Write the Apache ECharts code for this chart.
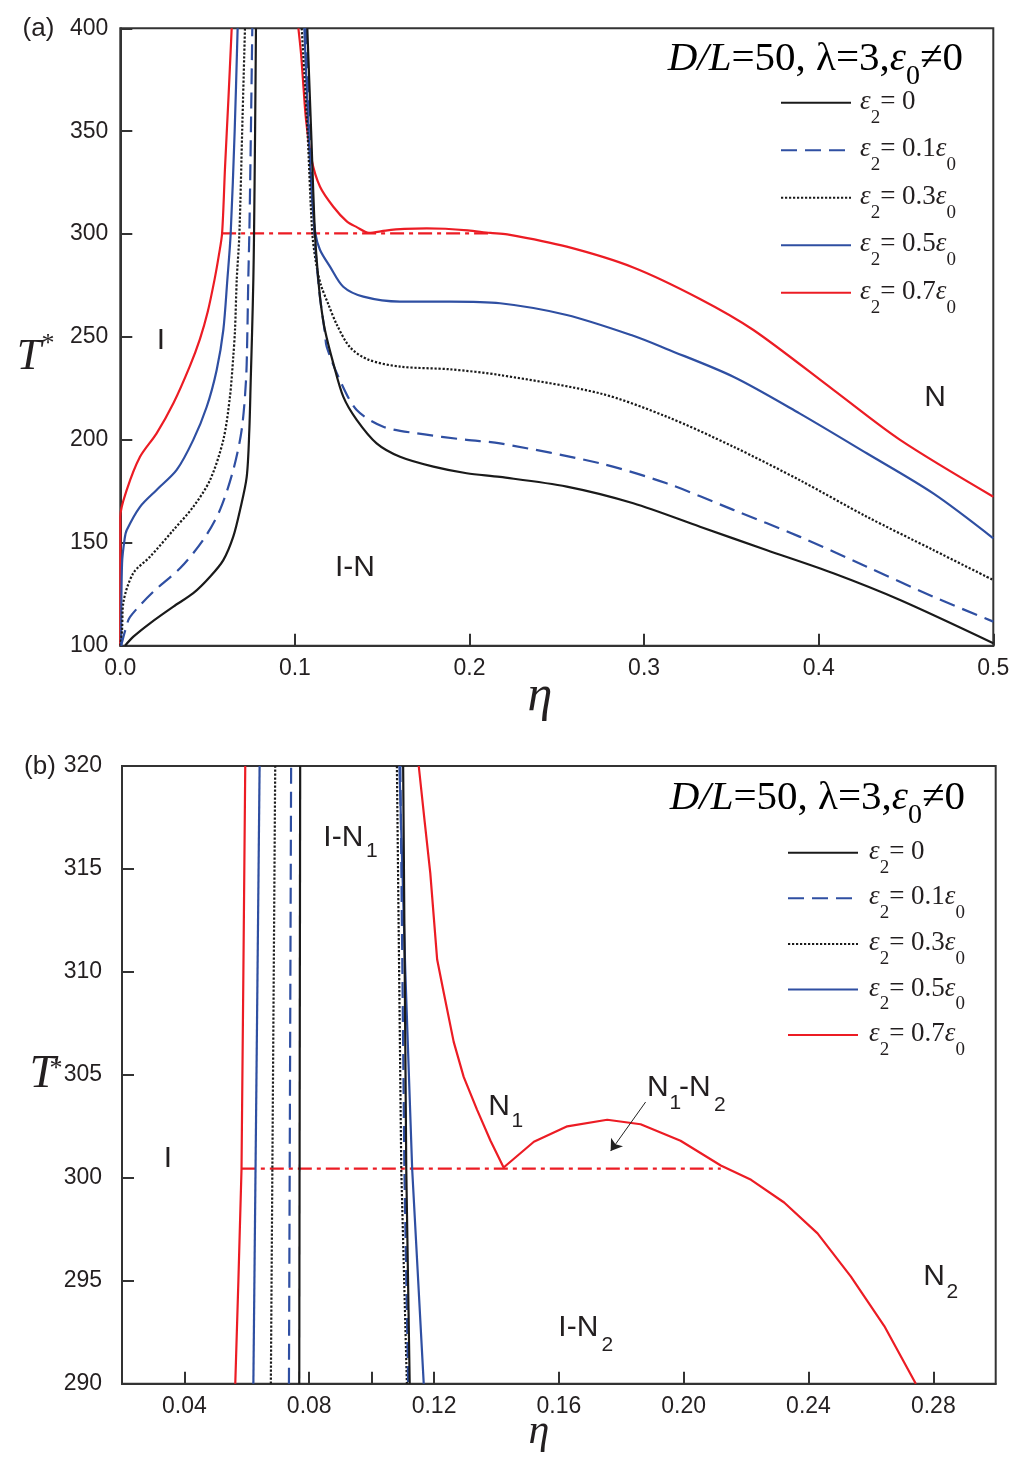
<!DOCTYPE html>
<html><head><meta charset="utf-8">
<script src="https://cdn.jsdelivr.net/npm/echarts@6/dist/echarts.min.js"></script>
<style>html,body{margin:0;padding:0;background:#fff}#c{width:1024px;height:1472px}</style>
</head><body><div id="c"></div>
<script>
// ---------- legend names ----------
const NAMES = ['ε2 = 0', 'ε2 = 0.1ε0', 'ε2 = 0.3ε0', 'ε2 = 0.5ε0', 'ε2 = 0.7ε0'];

// ---------- panel (a): ticks ----------
const aXRange = [0, 0.5], aXStep = 0.1;
const aYRange = [100, 400], aYStep = 50;

// ---------- panel (a): data [eta, T*] ----------
const a_e0_L = [[0.0027,100],[0.0075,104.4],[0.017,110.9],[0.0304,119],[0.0418,125.5],[0.0514,133.5],[0.059,141.6],[0.0647,153],[0.0686,166],[0.0724,182],[0.0739,204.8],[0.0747,229],[0.0755,253],[0.0762,278],[0.0766,300],[0.0772,350],[0.0777,400]];
const a_e0_R = [[0.1071,400],[0.1093,350],[0.1115,300],[0.1134,278],[0.115,265],[0.1172,253.4],[0.122,237.2],[0.1277,221],[0.1354,209.7],[0.1468,198.3],[0.1602,191.8],[0.1793,187],[0.1984,183.8],[0.2175,182],[0.2557,177.3],[0.2938,169.2],[0.332,157.8],[0.37,146.5],[0.4084,135.2],[0.4466,122.2],[0.5,101.2]];
const a_e1_L = [[0.0005,100],[0.003,108],[0.0056,114],[0.0189,126.2],[0.0342,137.6],[0.0475,151.4],[0.0571,166],[0.0647,185.4],[0.0695,204.8],[0.072,229],[0.0728,253.4],[0.0733,278],[0.0739,300],[0.0748,350],[0.0756,400]];
const a_e1_R = [[0.1062,400],[0.1088,350],[0.1112,300],[0.114,272],[0.1172,252],[0.1182,245.3],[0.1258,229],[0.1354,214.5],[0.1506,206.4],[0.1698,203.2],[0.1984,200],[0.2175,198.3],[0.2748,188.6],[0.3129,178.9],[0.3511,166],[0.389,153],[0.4275,138.4],[0.4656,123.8],[0.5,111.7]];
const a_e3_L = [[0,100],[0.001,107.6],[0.0017,120.7],[0.0074,135.2],[0.017,143.2],[0.0304,156.2],[0.0418,167.5],[0.0514,180.5],[0.059,200],[0.0628,221],[0.0647,240.4],[0.0657,253.4],[0.0667,278],[0.0682,300],[0.0698,350],[0.0714,400]];
const a_e3_R = [[0.1039,400],[0.1072,350],[0.11,300],[0.1125,284],[0.115,275],[0.1191,266],[0.124,256],[0.1316,245],[0.142,239],[0.1602,235.6],[0.1888,234.3],[0.2175,231.5],[0.2748,222.6],[0.3129,211.3],[0.3511,196.7],[0.389,180.5],[0.4275,162.7],[0.4656,146.5],[0.5,131.9]];
const a_e5_L = [[0.0005,100],[0.001,140],[0.0025,152],[0.0037,156.2],[0.0113,167.5],[0.0208,175.7],[0.0323,185.4],[0.0418,200],[0.0495,216.1],[0.0552,234],[0.059,253.4],[0.0613,277.7],[0.0632,300],[0.0655,350],[0.0672,400]];
const a_e5_R = [[0.1054,400],[0.1078,350],[0.11,315],[0.1118,300],[0.1144,292.3],[0.1201,284.2],[0.1277,274.4],[0.1392,269.6],[0.1602,267.2],[0.1888,267.2],[0.2175,266.4],[0.2557,260.7],[0.2938,250.6],[0.3129,244.2],[0.3511,230.7],[0.389,212.9],[0.4275,193.5],[0.4656,174],[0.5,152.2]];
const a_e7_L = [[0,100],[0,162.7],[0.0037,175.7],[0.0113,191.8],[0.0208,203.2],[0.0304,217.8],[0.0399,236],[0.0456,249],[0.05,262],[0.054,278],[0.0565,290],[0.0583,300.4],[0.06,332.8],[0.0619,365.2],[0.0638,400]];
const a_e7_R = [[0.102,400],[0.1035,387.8],[0.1049,371.6],[0.1064,355.4],[0.1096,336],[0.1144,323],[0.122,313.3],[0.1297,306.2],[0.1354,303.4],[0.1424,300.6],[0.152,301.7],[0.1627,302.5],[0.1755,302.8],[0.1862,302.6],[0.199,301.8],[0.2119,300.6],[0.2216,299.9],[0.2557,293.9],[0.2938,283.8],[0.332,268.5],[0.3626,253.4],[0.4084,224.3],[0.4466,200],[0.5,172.4]];
const a_tie = [[0.0583,300.4],[0.2119,300.4]];

// ---------- panel (b): ticks ----------
const bXRange = [0.02, 0.30];
const bXLabels = [0.04, 0.08, 0.12, 0.16, 0.20, 0.24, 0.28];
const bXTicks = [0.04, 0.08, 0.10, 0.12, 0.16, 0.20, 0.24, 0.28];
const bYRange = [290, 320], bYStep = 5;

// ---------- panel (b): data [eta, T*] ----------
const b_e0_L = [[0.0768,290],[0.0771,320]];
const b_e0_R = [[0.1101,320],[0.1111,300.4],[0.1122,290]];
const b_e1_L = [[0.0735,290],[0.0742,320]];
const b_e1_R = [[0.1092,320],[0.1105,300.4],[0.1117,290]];
const b_e3_L = [[0.0677,290],[0.0691,320]];
const b_e3_R = [[0.1081,320],[0.1095,300.4],[0.1113,290]];
const b_e5_L = [[0.0621,290],[0.0641,320]];
const b_e5_R = [[0.1089,320],[0.1108,310],[0.113,300.4],[0.1167,290]];
const b_e7_L = [[0.0563,290],[0.0573,295],[0.0583,300.4],[0.0589,310],[0.0595,320]];
const b_e7_R = [[0.1151,320],[0.117,317.3],[0.1188,314.8],[0.121,310.6],[0.1231,309],[0.1263,306.6],[0.1295,304.9],[0.1338,303.3],[0.1381,301.8],[0.1423,300.5],[0.152,301.75],[0.1627,302.5],[0.1755,302.82],[0.1862,302.6],[0.199,301.8],[0.2119,300.6],[0.2216,299.9],[0.2322,298.8],[0.2429,297.3],[0.2536,295.2],[0.2643,292.8],[0.2744,290]];
const b_tie = [[0.0584,300.45],[0.2119,300.45]];
const b_arrowFrom = [0.1878, 303.68];
const b_arrowTo = [0.1766, 301.3];

// ---------- styles ----------
const TXT = '#231f20';
const AX = '#333333';
const C_BLACK = '#1a1a1a', C_BLUE = '#2f4fa2', C_RED = '#ec1c24';
const SERIF = '"Liberation Serif", "Times New Roman", serif';
const SANS = '"Liberation Sans", Arial, Helvetica, sans-serif';
const DASH = [16, 8], DOT = [2.2, 1.8], DASHDOT = [14, 5, 4, 5];

const chart = echarts.init(document.getElementById('c'), null, {renderer: 'canvas'});

function mk(name, data, gi, color, dash, smooth, z) {
  return {
    name: name, type: 'line', xAxisIndex: gi, yAxisIndex: gi, data: data,
    symbol: 'none', showSymbol: false, smooth: smooth || false, clip: true,
    lineStyle: {color: color, width: 2.2, type: dash || 'solid'},
    itemStyle: {color: color}, emphasis: {disabled: true}, silent: true, z: z || 2
  };
}

const SM = 0.3;
const series = [
  mk(NAMES[4], a_e7_L, 0, C_RED, 'solid', SM, 2), mk(NAMES[4], a_e7_R, 0, C_RED, 'solid', SM, 2),
  mk('tie-a', a_tie, 0, C_RED, DASHDOT, false, 2),
  mk(NAMES[3], a_e5_L, 0, C_BLUE, 'solid', SM, 3), mk(NAMES[3], a_e5_R, 0, C_BLUE, 'solid', SM, 3),
  mk(NAMES[2], a_e3_L, 0, C_BLACK, DOT, SM, 4), mk(NAMES[2], a_e3_R, 0, C_BLACK, DOT, SM, 4),
  mk(NAMES[1], a_e1_L, 0, C_BLUE, DASH, SM, 5), mk(NAMES[1], a_e1_R, 0, C_BLUE, DASH, SM, 5),
  mk(NAMES[0], a_e0_L, 0, C_BLACK, 'solid', SM, 6), mk(NAMES[0], a_e0_R, 0, C_BLACK, 'solid', SM, 6),

  mk(NAMES[4], b_e7_L, 1, C_RED, 'solid', false, 2), mk(NAMES[4], b_e7_R, 1, C_RED, 'solid', false, 2),
  mk('tie-b', b_tie, 1, C_RED, DASHDOT, false, 2),
  mk(NAMES[3], b_e5_L, 1, C_BLUE, 'solid', false, 3), mk(NAMES[3], b_e5_R, 1, C_BLUE, 'solid', false, 3),
  mk(NAMES[2], b_e3_L, 1, C_BLACK, DOT, false, 4), mk(NAMES[2], b_e3_R, 1, C_BLACK, DOT, false, 4),
  mk(NAMES[1], b_e1_L, 1, C_BLUE, DASH, false, 5), mk(NAMES[1], b_e1_R, 1, C_BLUE, DASH, false, 5),
  mk(NAMES[0], b_e0_L, 1, C_BLACK, 'solid', false, 6), mk(NAMES[0], b_e0_R, 1, C_BLACK, 'solid', false, 6),
  {
    name: 'arrow', type: 'line', xAxisIndex: 1, yAxisIndex: 1, data: [b_arrowTo], symbol: 'none', silent: true,
    lineStyle: {width: 0},
    markLine: {
      silent: true, symbol: ['none', 'arrow'], symbolSize: 11, animation: false,
      label: {show: false}, emphasis: {disabled: true},
      lineStyle: {color: '#222', width: 1, type: 'solid'},
      data: [[{coord: b_arrowFrom}, {coord: b_arrowTo}]]
    }
  }
];

// legend rich text
const LEG_TEXT = {
  'ε2 = 0': '{e0|ε}{s|2}{t|= 0}',
  'ε2 = 0.1ε0': '{e0|ε}{s|2}{t|= 0.1}{e|ε}{s|0}',
  'ε2 = 0.3ε0': '{e0|ε}{s|2}{t|= 0.3}{e|ε}{s|0}',
  'ε2 = 0.5ε0': '{e0|ε}{s|2}{t|= 0.5}{e|ε}{s|0}',
  'ε2 = 0.7ε0': '{e0|ε}{s|2}{t|= 0.7}{e|ε}{s|0}'
};
function legRich(padL) {
  return {
    e0: {fontFamily: SERIF, fontStyle: 'italic', fontSize: 27, color: TXT, verticalAlign: 'top', padding: [10, 0, 0, padL]},
    e: {fontFamily: SERIF, fontStyle: 'italic', fontSize: 27, color: TXT, verticalAlign: 'top', padding: [10, 0, 0, 0]},
    s: {fontFamily: SERIF, fontSize: 19, color: TXT, verticalAlign: 'top', padding: [30, 0, 0, 0]},
    t: {fontFamily: SERIF, fontSize: 27, color: TXT, verticalAlign: 'top', padding: [10, 0, 0, 0]}
  };
}
function mkLegend(left, top, gap, padL) {
  return {
    orient: 'vertical', left: left, top: top, padding: 0, itemGap: gap,
    itemWidth: 70, itemHeight: 14, selectedMode: false,
    data: NAMES,
    itemStyle: {opacity: 0, color: 'rgba(0,0,0,0)', borderWidth: 0},
    formatter: function (n) { return LEG_TEXT[n]; },
    textStyle: {rich: legRich(padL)}
  };
}

// title rich text
const TITLE_TEXT = '{i|D/L}{r|=50, λ=3,}{i|ε}{s|0}{r|≠0}';
const TITLE_RICH = {
  i: {fontFamily: SERIF, fontStyle: 'italic', fontSize: 41, color: TXT, verticalAlign: 'top', padding: [0, 0, 0, 0]},
  r: {fontFamily: SERIF, fontSize: 41, color: TXT, verticalAlign: 'top', padding: [0, 0, 0, 0]},
  s: {fontFamily: SERIF, fontSize: 28, color: TXT, verticalAlign: 'top', padding: [24, 0, 0, 0]}
};

function T(x, y, text, size, extra) {
  const st = Object.assign({text: text, fontSize: size, fontFamily: SANS, fill: TXT, align: 'left', verticalAlign: 'middle'}, extra || {});
  return {type: 'text', x: x, y: y, silent: true, z: 100, style: st};
}

const graphics = [
  // panel (a)
  T(38.5, 29, '(a)', 26, {align: 'center'}),
  T(161, 340.5, 'I', 30, {align: 'center'}),
  T(355, 567.5, 'I-N', 30, {align: 'center'}),
  T(935, 397.5, 'N', 30, {align: 'center'}),
  T(29, 357, 'T', 44, {align: 'center', fontFamily: SERIF, fontStyle: 'italic'}),
  T(48, 344, '*', 26, {align: 'center', fontFamily: SERIF}),
  T(540, 697, 'η', 50, {align: 'center', fontFamily: SERIF, fontStyle: 'italic'}),
  {type: 'text', x: 963, y: 65, silent: true, z: 100, style: {text: TITLE_TEXT, rich: TITLE_RICH, align: 'right', verticalAlign: 'middle'}},
  // panel (b)
  T(40, 767, '(b)', 26, {align: 'center'}),
  T(168, 1159, 'I', 30, {align: 'center'}),
  T(323.3, 838, 'I-N', 30), T(366, 851, '1', 21),
  T(488.3, 1106.7, 'N', 30), T(511.5, 1121.7, '1', 21),
  T(647, 1087.5, 'N', 30), T(669.5, 1103, '1', 21), T(679, 1087.5, '-N', 30), T(714, 1105, '2', 21),
  T(558.3, 1328, 'I-N', 30), T(601.5, 1345, '2', 21),
  T(923.3, 1276.7, 'N', 30), T(946.5, 1292, '2', 21),
  T(42.5, 1075, 'T', 47, {align: 'center', fontFamily: SERIF, fontStyle: 'italic'}),
  T(56, 1069, '*', 26, {align: 'center', fontFamily: SERIF}),
  T(539, 1432, 'η', 42, {align: 'center', fontFamily: SERIF, fontStyle: 'italic'}),
  {type: 'text', x: 965, y: 804, silent: true, z: 100, style: {text: TITLE_TEXT, rich: TITLE_RICH, align: 'right', verticalAlign: 'middle'}}
];

const axLabel = {color: TXT, fontSize: 23, fontFamily: SANS};
const axLine = {show: true, lineStyle: {color: AX, width: 2}};
const axTick = {show: true, inside: true, length: 12, lineStyle: {color: AX, width: 2}};

const option = {
  animation: false,
  backgroundColor: '#ffffff',
  grid: [
    {left: 120.3, top: 28.3, width: 873, height: 617.4, show: true, borderColor: AX, borderWidth: 2, backgroundColor: 'transparent', containLabel: false},
    {left: 122, top: 766, width: 873.7, height: 617.7, show: true, borderColor: AX, borderWidth: 2, backgroundColor: 'transparent', containLabel: false}
  ],
  xAxis: [
    {type: 'value', gridIndex: 0, min: aXRange[0], max: aXRange[1], interval: aXStep,
     axisLine: axLine, axisTick: axTick, splitLine: {show: false},
     axisLabel: Object.assign({margin: 11, formatter: function (v) { return v.toFixed(1); }}, axLabel)},
    {type: 'value', gridIndex: 1, min: bXRange[0], max: bXRange[1],
     axisLine: axLine, splitLine: {show: false},
     axisTick: Object.assign({customValues: bXTicks}, axTick),
     axisLabel: Object.assign({margin: 11, customValues: bXLabels, formatter: function (v) { return v.toFixed(2); }}, axLabel)}
  ],
  yAxis: [
    {type: 'value', gridIndex: 0, min: aYRange[0], max: aYRange[1], interval: aYStep,
     axisLine: axLine, axisTick: axTick, splitLine: {show: false},
     axisLabel: Object.assign({margin: 12}, axLabel)},
    {type: 'value', gridIndex: 1, min: bYRange[0], max: bYRange[1], interval: bYStep,
     axisLine: axLine, axisTick: axTick, splitLine: {show: false},
     axisLabel: Object.assign({margin: 20}, axLabel)}
  ],
  legend: [mkLegend(780, 88.2, 8.5, 4), mkLegend(787, 838.2, 6.6, 6)],
  graphic: {elements: graphics},
  series: series
};
chart.setOption(option);
</script></body></html>
